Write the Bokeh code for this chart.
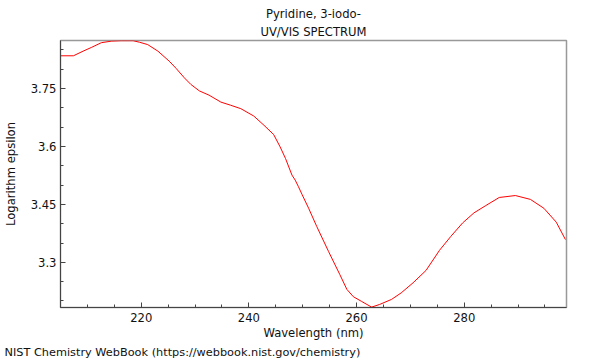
from bokeh.plotting import figure
from bokeh.models import FixedTicker, Range1d, Title
from bokeh.embed import file_html
from bokeh.resources import INLINE

# ---- data ----
wavelength = [205.0, 207.4, 209.2, 210.8, 212.6, 214.5, 216.3, 218.5, 219.7, 221.2,
              223.1, 225.2, 226.5, 228.0, 229.2, 230.8, 232.6, 234.8, 236.6, 238.5,
              240.9, 242.8, 244.6, 245.8, 246.8, 248.0, 248.6, 249.2, 249.9, 251.1,
              252.6, 254.8, 256.9, 258.2, 259.4, 260.9, 262.8, 264.3, 266.5, 268.3,
              270.5, 272.9, 275.4, 277.5, 279.7, 281.8, 284.0, 286.5, 289.5, 292.3,
              294.8, 297.1, 298.8]
log_eps = [3.835, 3.835, 3.847, 3.857, 3.869, 3.873, 3.874, 3.874, 3.870, 3.864,
           3.847, 3.821, 3.802, 3.778, 3.761, 3.744, 3.733, 3.715, 3.707, 3.698,
           3.679, 3.655, 3.631, 3.599, 3.569, 3.526, 3.513, 3.496, 3.475, 3.440,
           3.393, 3.328, 3.268, 3.230, 3.211, 3.199, 3.184, 3.191, 3.204, 3.221,
           3.247, 3.279, 3.331, 3.367, 3.402, 3.428, 3.447, 3.468, 3.473, 3.463,
           3.440, 3.404, 3.359]

x_major = [220, 240, 260, 280]
x_minor = [205, 210, 215, 225, 230, 235, 245, 250, 255, 265, 270, 275, 285, 290, 295]
y_major = [3.3, 3.45, 3.6, 3.75]
y_major_labels = ["3.3", "3.45", "3.6", "3.75"]
y_minor = [3.2, 3.25, 3.35, 3.4, 3.5, 3.55, 3.65, 3.7, 3.8, 3.85]

title_lines = ["Pyridine, 3-iodo-", "UV/VIS SPECTRUM"]
x_title = "Wavelength (nm)"
y_title = "Logarithm epsilon"
footer = "NIST Chemistry WebBook (https://webbook.nist.gov/chemistry)"

FONT = "DejaVu Sans"
TXT = "#111111"
FS = "11.6px"

p = figure(width=600, height=360, output_backend="svg", toolbar_location=None,
           x_range=Range1d(205.0, 299.0), y_range=Range1d(3.183, 3.8746),
           min_border_left=57, min_border_right=34, min_border_top=40, min_border_bottom=52)
p.title.visible = False
p.background_fill_color = "white"
p.border_fill_color = "white"
p.grid.visible = False
p.outline_line_color = "#999999"
p.outline_line_width = 1.5

p.line(wavelength, log_eps, line_color="#ff0000", line_width=1)

for ax in (p.xaxis[0], p.yaxis[0]):
    ax.axis_line_color = "#444444"
    ax.major_tick_line_color = "#444444"
    ax.minor_tick_line_color = "#444444"
    ax.major_tick_in = 5
    ax.major_tick_out = 0
    ax.minor_tick_in = 3
    ax.minor_tick_out = 0
    ax.major_label_text_font = FONT
    ax.major_label_text_font_size = FS
    ax.major_label_text_color = TXT
    ax.axis_label_text_font = FONT
    ax.axis_label_text_font_size = FS
    ax.axis_label_text_font_style = "normal"
    ax.axis_label_text_color = TXT

p.xaxis.ticker = FixedTicker(ticks=x_major, minor_ticks=x_minor)
p.xaxis.major_label_standoff = 5
p.xaxis.axis_label = x_title
p.xaxis.axis_label_standoff = 1

p.yaxis.ticker = FixedTicker(ticks=y_major, minor_ticks=y_minor)
p.yaxis.major_label_overrides = {v: s for v, s in zip(y_major, y_major_labels)}
p.yaxis.major_label_standoff = 4
p.yaxis.axis_label = y_title
p.yaxis.axis_label_standoff = 10


def title(txt, where, standoff, align="center", offset=0, size=FS):
    t = Title(text=txt, align=align, text_font=FONT, text_font_size=size,
              text_font_style="normal", text_color=TXT, standoff=standoff, offset=offset)
    p.add_layout(t, where)


title(title_lines[1], "above", 3)
title(title_lines[0], "above", 2)
title(footer, "below", 3, align="left", offset=-56, size="11.3px")

open("out.html", "w").write(file_html(p, INLINE))
